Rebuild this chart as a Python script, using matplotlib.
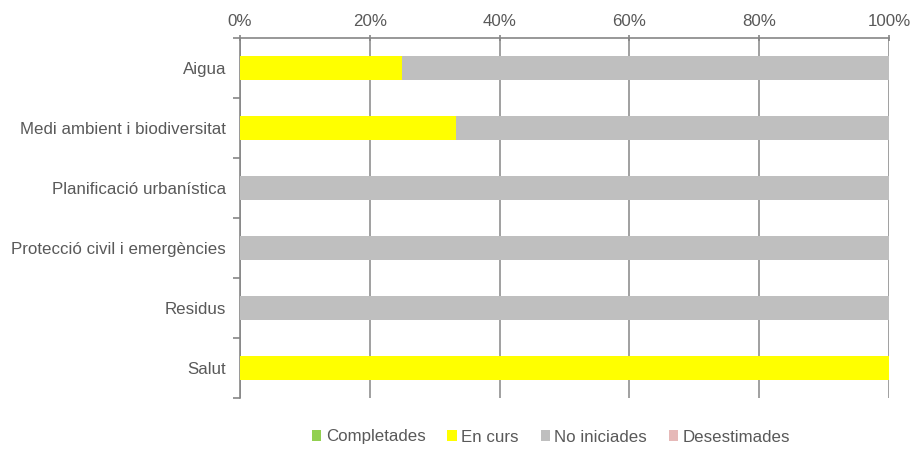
import matplotlib.pyplot as plt
import numpy as np
from matplotlib.ticker import FixedLocator, PercentFormatter

plt.rcParams['font.family'] = ['Liberation Sans', 'DejaVu Sans']

categories = ["Aigua", "Medi ambient i biodiversitat", "Planificació urbanística",
              "Protecció civil i emergències", "Residus", "Salut"]
series_names = ["Completades", "En curs", "No iniciades", "Desestimades"]
completades = [0, 0, 0, 0, 0, 0]
en_curs = [25, 33.3, 0, 0, 0, 100]
no_iniciades = [75, 66.7, 100, 100, 100, 0]
desestimades = [0, 0, 0, 0, 0, 0]
colors = ["#92D050", "#FFFF00", "#BFBFBF", "#E6B9B8"]

text_c = "#595959"
line_c = "#868686"

fig = plt.figure(figsize=(9.16, 4.5), dpi=100)
ax = fig.add_axes([240/916, 1-398/450, (889-240)/916, (398-38)/450])

y = np.arange(len(categories))
left = np.zeros(len(categories))
for name, vals, c in zip(series_names, [completades, en_curs, no_iniciades, desestimades], colors):
    ax.barh(y, vals, left=left, height=0.4, color=c, label=name, zorder=3)
    left += np.array(vals)

ax.set_xlim(0, 100)
ax.set_ylim(len(categories)-0.5, -0.5)
ax.xaxis.tick_top()
ax.set_xticks([0, 20, 40, 60, 80, 100])
ax.xaxis.set_major_formatter(PercentFormatter(decimals=0))
ax.tick_params(axis='x', colors=line_c, labelcolor=text_c, labelsize=12.2, length=5, width=1.2, pad=4, direction='inout')
ax.grid(axis='x', color=line_c, linewidth=1.1, zorder=0)

ax.set_yticks(y)
ax.set_yticklabels(categories)
ax.yaxis.set_minor_locator(FixedLocator(np.arange(-0.5, len(categories), 1.0)))
ax.tick_params(axis='y', which='major', length=0, labelcolor=text_c, labelsize=12.2, pad=10)
ax.tick_params(axis='y', which='minor', length=5, width=1.2, color=line_c)

for s in ['right', 'bottom']:
    ax.spines[s].set_visible(False)
for s in ['top', 'left']:
    ax.spines[s].set_color(line_c)
    ax.spines[s].set_linewidth(1.2)

leg = fig.legend(loc='center', bbox_to_anchor=(551/916, 1-437/450), ncol=4, frameon=False,
                 fontsize=12.2, handlelength=0.55, handleheight=0.55, handletextpad=0.25, columnspacing=1.3)
for t in leg.get_texts():
    t.set_color(text_c)

fig.savefig("out.png", dpi=100)
